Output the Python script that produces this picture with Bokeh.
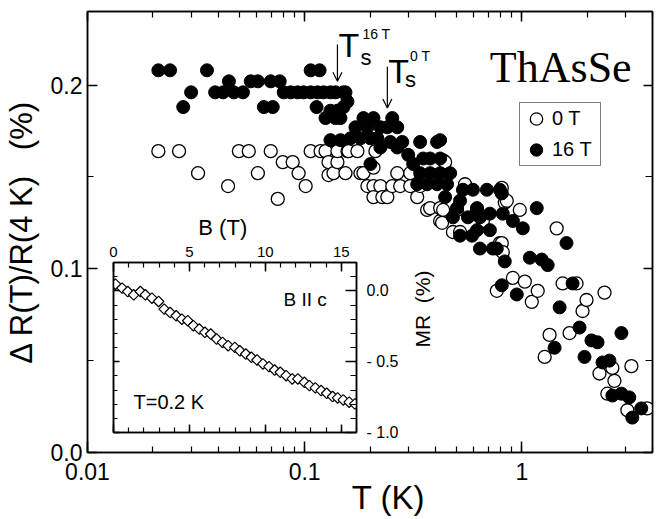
import math
from bokeh.plotting import figure
from bokeh.models import (LogAxis, LinearAxis, LogTicker, SingleIntervalTicker,
                          CustomJSTickFormatter, Range1d, Legend, LegendItem,
                          Arrow, OpenHead, Label)
from bokeh.embed import file_html
from bokeh.resources import INLINE

# ---------------- data ----------------
# 0 T : open circles
t_0T = [0.0212, 0.0264, 0.0323, 0.0444, 0.0498, 0.0553, 0.0609, 0.0698, 0.0752,
        0.0793, 0.0881, 0.0938, 0.1011, 0.1066, 0.1184, 0.1248, 0.1288, 0.1288,
        0.1358, 0.1416, 0.1416, 0.1542, 0.1575, 0.1592, 0.1750, 0.1807, 0.1866,
        0.1946, 0.2075, 0.2075, 0.2075, 0.2118, 0.2233, 0.2280, 0.2404, 0.2533,
        0.2671, 0.2755, 0.3064, 0.3064, 0.3299, 0.3404, 0.3665, 0.3784, 0.3907,
        0.4207, 0.4207, 0.4295, 0.4343, 0.4343, 0.4436, 0.4819, 0.5033, 0.5196,
        0.5478, 0.6220, 0.6624, 0.7674, 0.7925, 0.8091, 0.8091, 0.8177, 0.8350,
        0.8531, 0.9099, 0.9795, 1.033, 1.112, 1.184, 1.275, 1.343, 1.448, 1.542,
        1.660, 1.787, 1.905, 1.987, 2.280, 2.405, 2.478, 2.613, 2.671, 3.064,
        3.198, 3.784]
r_0T = [0.164, 0.164, 0.152, 0.145, 0.164, 0.164, 0.152, 0.164, 0.138,
        0.158, 0.158, 0.152, 0.145, 0.164, 0.164, 0.164, 0.158, 0.151,
        0.152, 0.158, 0.164, 0.152, 0.164, 0.164, 0.164, 0.152, 0.152,
        0.145, 0.145, 0.139, 0.155, 0.164, 0.145, 0.139, 0.139, 0.145,
        0.152, 0.145, 0.152, 0.145, 0.139, 0.145, 0.132, 0.133, 0.151,
        0.133, 0.126, 0.125, 0.159, 0.132, 0.158, 0.120, 0.132, 0.120,
        0.146, 0.132, 0.126, 0.088, 0.114, 0.144, 0.114, 0.109, 0.136,
        0.137, 0.095, 0.132, 0.093, 0.082, 0.088, 0.052, 0.064, 0.122, 0.092,
        0.065, 0.092, 0.077, 0.083, 0.043, 0.087, 0.032, 0.046, 0.039, 0.023,
        0.047, 0.024]

# 16 T : filled circles
t_16T = [0.0212, 0.0240, 0.0276, 0.0300, 0.0355, 0.0387, 0.0421, 0.0448, 0.0472,
         0.0520, 0.0565, 0.0609, 0.0649, 0.0698, 0.0713, 0.0768, 0.0801, 0.0863,
         0.0929, 0.0989, 0.1066, 0.1066, 0.1135, 0.1148, 0.1172, 0.1222, 0.1248,
         0.1315, 0.1315, 0.1315, 0.1387, 0.1387, 0.1416, 0.1462, 0.1462, 0.1510,
         0.1510, 0.1542, 0.1575, 0.1626, 0.1714, 0.1807, 0.1866, 0.1946, 0.2010,
         0.2010, 0.2075, 0.2163, 0.2233, 0.2233, 0.2404, 0.2480, 0.2533, 0.2671,
         0.2671, 0.2816, 0.2999, 0.3162, 0.3299, 0.3404, 0.3404, 0.3514, 0.3665,
         0.3784, 0.3784, 0.4074, 0.4074, 0.4207, 0.4207, 0.4207, 0.4436, 0.4529,
         0.4677, 0.4819, 0.5033, 0.5196, 0.5196, 0.5358, 0.5649, 0.5899, 0.5957,
         0.6220, 0.6220, 0.6417, 0.6417, 0.6906, 0.7129, 0.7129, 0.7362, 0.7674,
         0.7925, 0.8091, 0.8091, 0.8177, 0.8350, 0.9099, 0.9484, 1.0115, 1.089,
         1.172, 1.236, 1.316, 1.416, 1.494, 1.607, 1.714, 1.845, 1.945, 2.094,
         2.233, 2.355, 2.533, 2.613, 2.877, 2.877, 3.126, 3.228, 3.550]
r_16T = [0.208, 0.208, 0.188, 0.196, 0.208, 0.196, 0.196, 0.202, 0.196,
         0.196, 0.202, 0.202, 0.188, 0.202, 0.188, 0.202, 0.196, 0.196,
         0.196, 0.196, 0.208, 0.196, 0.188, 0.196, 0.208, 0.196, 0.182,
         0.196, 0.186, 0.170, 0.196, 0.182, 0.186, 0.182, 0.170, 0.196,
         0.188, 0.196, 0.191, 0.171, 0.177, 0.171, 0.182, 0.177, 0.171,
         0.157, 0.182, 0.171, 0.177, 0.166, 0.177, 0.169, 0.182, 0.177,
         0.166, 0.169, 0.162, 0.157, 0.146, 0.169, 0.152, 0.160, 0.146,
         0.160, 0.152, 0.169, 0.146, 0.170, 0.160, 0.152, 0.139, 0.146,
         0.152, 0.128, 0.133, 0.137, 0.118, 0.143, 0.128, 0.118, 0.143,
         0.133, 0.121, 0.128, 0.111, 0.143, 0.130, 0.121, 0.111, 0.111,
         0.143, 0.141, 0.091, 0.130, 0.104, 0.126, 0.086, 0.122, 0.106,
         0.133, 0.105, 0.102, 0.057, 0.079, 0.114, 0.092, 0.068, 0.052, 0.061,
         0.060, 0.049, 0.050, 0.031, 0.065, 0.032, 0.030, 0.019, 0.024]

# inset: MR(B) at T = 0.2 K
b_field = [0.13, 0.57, 0.94, 1.33, 1.77, 2.10, 2.53, 2.97, 3.34, 3.73, 4.13, 4.50,
           4.89, 5.26, 5.65, 6.02, 6.40, 6.79, 7.18, 7.55, 7.99, 8.32, 8.71, 9.08,
           9.45, 9.84, 10.24, 10.61, 10.98, 11.37, 11.77, 12.14, 12.57, 12.90,
           13.29, 13.67, 14.04, 14.43, 14.76, 15.13, 15.52, 15.89]
mr_pct = [0.047, 0.019, -0.005, -0.028, -0.005, -0.028, -0.052, -0.075, -0.129,
          -0.153, -0.176, -0.200, -0.211, -0.246, -0.270, -0.293, -0.305, -0.340,
          -0.364, -0.387, -0.399, -0.423, -0.446, -0.469, -0.488, -0.516, -0.535,
          -0.559, -0.575, -0.599, -0.622, -0.622, -0.646, -0.669, -0.685, -0.704,
          -0.723, -0.746, -0.756, -0.770, -0.786, -0.798]

# transition temperatures marked by arrows
ts_16T = 0.1416
ts_0T = 0.2404

FONT = "Liberation Sans"
NB = "\u00a0"


def style_axis(ax, major_in, minor_in, label_size):
    ax.major_tick_in = major_in
    ax.major_tick_out = 0
    ax.minor_tick_in = minor_in
    ax.minor_tick_out = 0
    ax.axis_line_color = "black"
    ax.axis_line_width = 1.5
    ax.major_tick_line_color = "black"
    ax.major_tick_line_width = 1.5
    ax.minor_tick_line_color = "black"
    ax.minor_tick_line_width = 1.2
    ax.major_label_text_font = FONT
    ax.major_label_text_font_size = label_size
    ax.major_label_text_color = "black"
    ax.axis_label_text_font = FONT
    ax.axis_label_text_font_style = "normal"
    ax.axis_label_text_color = "black"


def mirror(ax):
    # tick-only mirror axis: labels exist but are invisible and tiny
    ax.major_label_text_font_size = "1px"
    ax.major_label_text_alpha = 0.0
    ax.major_label_standoff = 0


# ---------------- main plot ----------------
p = figure(width=665, height=519, x_axis_type="log",
           x_range=Range1d(0.01, 4.0), y_range=Range1d(0.0, 0.24),
           output_backend="svg", toolbar_location=None,
           min_border_left=86, min_border_right=13, min_border_top=11,
           min_border_bottom=67)
p.grid.visible = False
p.outline_line_color = "black"
p.outline_line_width = 1.5
p.background_fill_color = "white"
p.border_fill_color = "white"

xa = p.xaxis[0]
xa.ticker = LogTicker(num_minor_ticks=10)
xa.formatter = CustomJSTickFormatter(code="return String(Number(tick.toPrecision(3)));")
style_axis(xa, 11, 6, "23px")
xa.major_label_standoff = 10
xa.axis_label = NB * 4 + "T (K)"
xa.axis_label_text_font_size = "33px"
xa.axis_label_standoff = -4

ya = p.yaxis[0]
ya.ticker = SingleIntervalTicker(interval=0.1, num_minor_ticks=2)
ya.formatter = CustomJSTickFormatter(code="return tick.toFixed(1);")
style_axis(ya, 10, 6, "23px")
ya.major_label_standoff = 5
ya.axis_label = "\u0394 R(T)/R(4 K)" + NB * 3 + "(%)"
ya.axis_label_text_font_size = "31px"
ya.axis_label_standoff = 9

top = LogAxis(ticker=LogTicker(num_minor_ticks=10))
style_axis(top, 10, 6, "10px")
mirror(top)
p.add_layout(top, "above")

right = LinearAxis(ticker=SingleIntervalTicker(interval=0.1, num_minor_ticks=2))
style_axis(right, 9, 7, "10px")
mirror(right)
p.add_layout(right, "right")

r_open = p.scatter(t_0T, r_0T, marker="circle", size=13, fill_color="white",
                   line_color="black", line_width=1.3)
r_fill = p.scatter(t_16T, r_16T, marker="circle", size=13, fill_color="black",
                   line_color="black", line_width=1.0)

legend = Legend(items=[LegendItem(label="0 T", renderers=[r_open]),
                       LegendItem(label="16 T", renderers=[r_fill])],
                location=(432, 286), margin=0, padding=0, spacing=0,
                glyph_width=32, glyph_height=31, label_standoff=0, label_width=48,
                border_line_color="black", border_line_width=1.3,
                background_fill_color="white", background_fill_alpha=1.0,
                label_text_font=FONT, label_text_font_size="20px",
                label_text_color="black")
p.add_layout(legend)

# arrows marking T_s
p.add_layout(Arrow(x_start=ts_16T, y_start=0.222, x_end=ts_16T, y_end=0.202,
                   line_width=1.2, line_color="black",
                   end=OpenHead(size=9, line_width=1.2, line_color="black")))
p.add_layout(Arrow(x_start=ts_0T, y_start=0.210, x_end=ts_0T, y_end=0.1875,
                   line_width=1.2, line_color="black",
                   end=OpenHead(size=9, line_width=1.2, line_color="black")))


def lab(fig, x, y, text, size, font=FONT, align="left", baseline="alphabetic"):
    fig.add_layout(Label(x=x, y=y, text=text, text_font=font, text_font_size=size,
                         text_align=align, text_baseline=baseline,
                         text_color="black"))


lab(p, 0.1432, 0.2218, "T", "34px")
lab(p, 0.1845, 0.2277, "16 T", "14px")
lab(p, 0.1807, 0.2147, "s", "22px")
lab(p, 0.2427, 0.2076, "T", "34px")
lab(p, 0.3060, 0.2157, "0 T", "14px")
lab(p, 0.2900, 0.2028, "s", "22px")
lab(p, 0.713, 0.2097, "ThAsSe", "44px", font="Liberation Serif")

# ---------------- inset ----------------
q = figure(width=353, height=237, x_range=Range1d(0, 16), y_range=Range1d(-1.0, 0.2),
           output_backend="svg", toolbar_location=None,
           x_axis_location="above", y_axis_location="right",
           min_border_left=10, min_border_bottom=10, min_border_top=57,
           min_border_right=100)
q.grid.visible = False
q.outline_line_color = "black"
q.outline_line_width = 1.5
q.background_fill_color = "white"
q.border_fill_color = None

qa = q.xaxis[0]
qa.ticker = SingleIntervalTicker(interval=5, num_minor_ticks=5)
style_axis(qa, 9, 5, "15px")
qa.major_label_standoff = 6
qa.axis_label = "B (T)" + NB * 4
qa.axis_label_text_font_size = "22px"
qa.axis_label_standoff = 4

qr = q.yaxis[0]
qr.ticker = SingleIntervalTicker(interval=0.5, num_minor_ticks=5)
qr.formatter = CustomJSTickFormatter(
    code="return Math.abs(tick) < 1e-9 ? '0.0' : '- ' + Math.abs(tick).toFixed(1);")
style_axis(qr, 11, 6, "16px")
qr.major_label_standoff = 10
qr.axis_label = "MR" + NB * 2 + "(%)"
qr.axis_label_text_font_size = "21px"
qr.axis_label_standoff = 21
try:
    qr.axis_label_orientation = math.pi / 2
except Exception:
    pass

qb = LinearAxis(ticker=SingleIntervalTicker(interval=5, num_minor_ticks=5))
style_axis(qb, 8, 5, "10px")
mirror(qb)
q.add_layout(qb, "below")

ql = LinearAxis(ticker=SingleIntervalTicker(interval=0.5, num_minor_ticks=5))
style_axis(ql, 6, 4, "10px")
mirror(ql)
q.add_layout(ql, "left")

q.scatter(b_field, mr_pct, marker="square", angle=math.pi / 4, size=7.5,
          fill_color="white", line_color="black", line_width=1.2)

lab(q, 11.19, -0.064, "B II c", "19px")
lab(q, 1.32, -0.784, "T=0.2 K", "20px")

# the inset is a second root, placed on top of the main plot
q.styles = {"position": "absolute", "left": "103px", "top": "205px", "z-index": "10"}

open("out.html", "w").write(file_html([p, q], INLINE))
